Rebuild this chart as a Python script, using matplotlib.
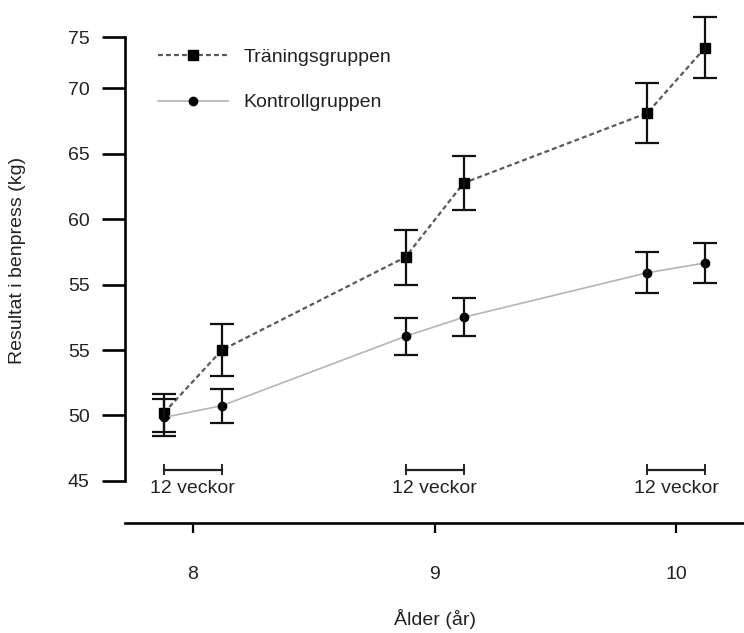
import matplotlib
matplotlib.use('Agg')
import matplotlib.pyplot as plt

plt.rcParams['font.family'] = ['Liberation Sans', 'DejaVu Sans']

# age (years) at each measurement
age = [7.88, 8.12, 8.88, 9.12, 9.88, 10.12]

# values, in the axis' linear position units
# (the printed tick labels of the original are not evenly spaced, see below)
traning = [50.2, 55.0, 62.1, 67.75, 73.1, 78.1]
traning_err = [1.45, 2.0, 2.1, 2.05, 2.3, 2.3]
kontroll = [49.85, 50.75, 56.05, 57.5, 60.9, 61.65]
kontroll_err = [1.4, 1.3, 1.4, 1.45, 1.55, 1.5]

ytick_pos = [45, 50, 55, 60, 65, 70, 75, 78.9]
ytick_labels = ['45', '50', '55', '55', '60', '65', '70', '75']
xticks = [8, 9, 10]

# the "12 veckor" intervals
week_start = [7.88, 8.88, 9.88]
week_end = [8.12, 9.12, 10.12]

txt = '#222222'

fig = plt.figure(figsize=(7.44, 6.33), dpi=100)
ax = fig.add_axes([125 / 744, 1 - 523 / 633, 1 - 125 / 744, 520 / 633])

ax.plot(age, traning, ls=(0, (2.2, 1.4)), lw=1.6, color='#5a5a5a',
        marker='s', ms=7, mfc='black', mec='black', label='Träningsgruppen')
ax.plot(age, kontroll, ls='-', lw=1.2, color='#b5b5b5',
        marker='o', ms=6, mfc='black', mec='black', label='Kontrollgruppen')
ax.errorbar(age, traning, yerr=traning_err, fmt='none', ecolor='#111111',
            elinewidth=1.6, capsize=8.5, capthick=1.6)
ax.errorbar(age, kontroll, yerr=kontroll_err, fmt='none', ecolor='#111111',
            elinewidth=1.6, capsize=8.5, capthick=1.6)

for a, b in zip(week_start, week_end):
    ax.plot([a, b], [45.85, 45.85], color='#222222', lw=1.6)
    ax.plot([a, a], [45.5, 46.2], color='#222222', lw=1.4)
    ax.plot([b, b], [45.5, 46.2], color='#222222', lw=1.4)
    ax.text((a + b) / 2, 44.45, '12 veckor', ha='center', va='center',
            fontsize=14, color=txt)

ax.set_xlim(7.719, 10.28)
ax.set_ylim(41.79, 81.5)

ax.set_yticks(ytick_pos)
ax.set_yticklabels(ytick_labels)
ax.set_xticks(xticks)

for s in ['top', 'right']:
    ax.spines[s].set_visible(False)
ax.spines['left'].set_bounds(45, 78.9)
ax.spines['left'].set_linewidth(1.9)
ax.spines['bottom'].set_linewidth(1.9)

ax.tick_params(axis='y', direction='out', length=16.5, width=1.9, pad=9,
               labelsize=14, labelcolor=txt)
ax.tick_params(axis='x', direction='out', length=7, width=1.6, pad=24,
               labelsize=14, labelcolor=txt)

ax.set_xlabel('Ålder (år)', fontsize=14, color=txt, labelpad=19)
fig.text(18 / 744, 1 - 260 / 633, 'Resultat i benpress (kg)', rotation=90,
         ha='center', va='center', fontsize=14, color=txt)

leg = ax.legend(loc='upper left', bbox_to_anchor=(158 / 744, 1 - 48 / 633),
                bbox_transform=fig.transFigure, frameon=False, fontsize=14,
                handlelength=3.6, handletextpad=0.8, labelspacing=1.45,
                borderpad=0, borderaxespad=0)
for t in leg.get_texts():
    t.set_color(txt)

fig.savefig('out.png', dpi=100)
